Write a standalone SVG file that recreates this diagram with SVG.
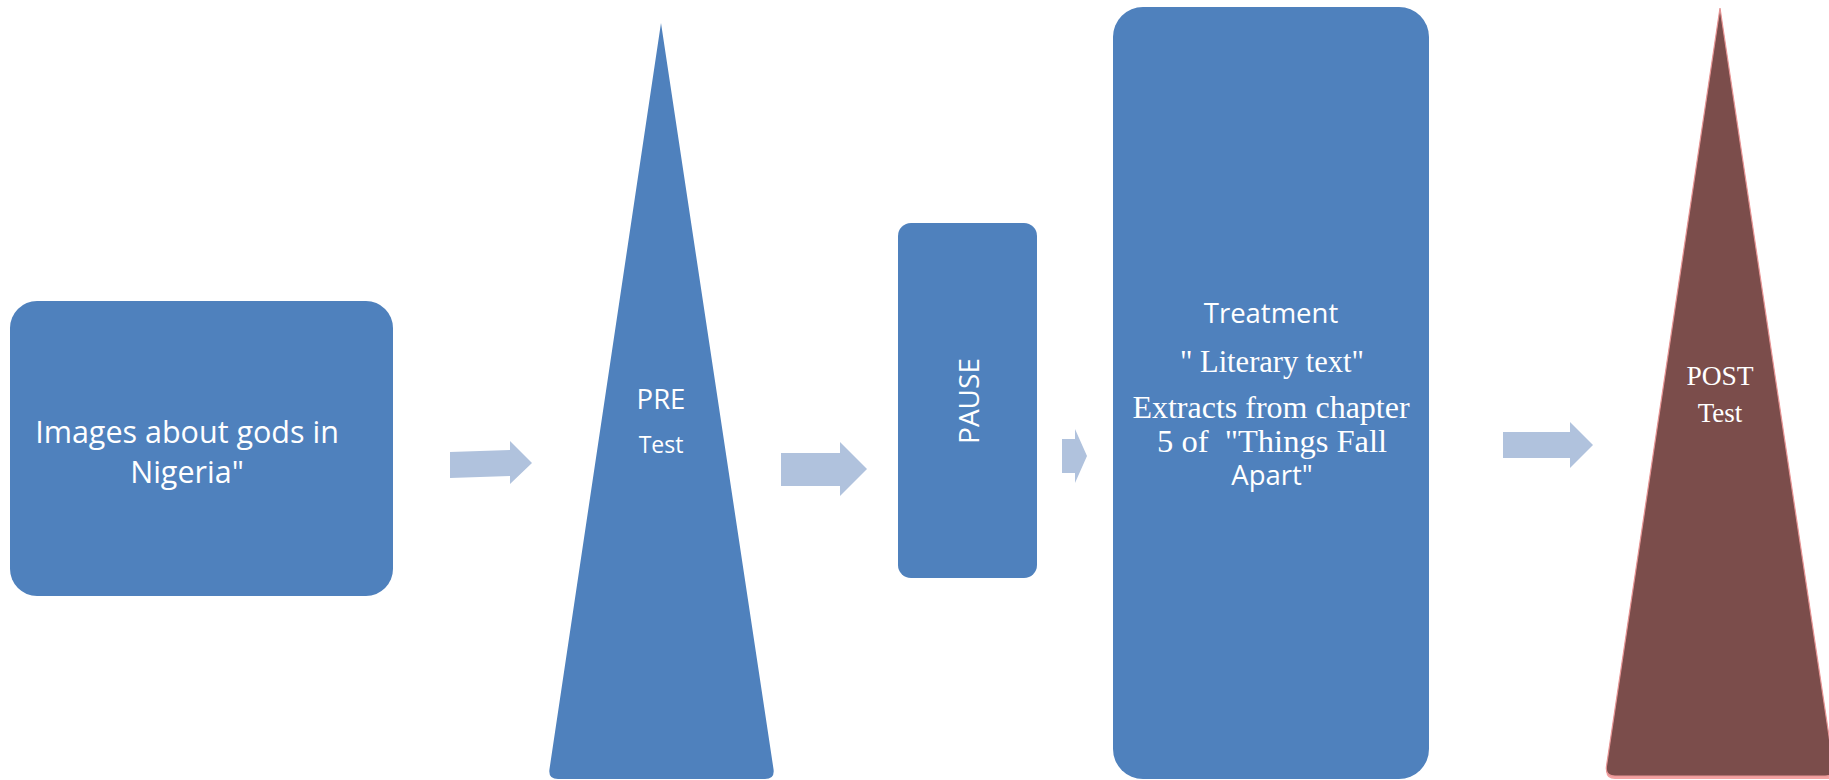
<svg xmlns="http://www.w3.org/2000/svg" width="1829" height="780" viewBox="0 0 1829 780">
  <style>
    .box { fill: #4F81BD; }
    .flow { fill: #B0C2DD; }
    .sans { font-family: "Open Sans", "Liberation Sans", sans-serif; fill: #FFFFFF; text-anchor: middle; }
    .serif { font-family: "Liberation Serif", "Times New Roman", serif; fill: #FFFFFF; text-anchor: middle; }
  </style>

  <rect width="1829" height="780" fill="#FFFFFF"/>

  <!-- connectors: block arrows between stages -->
  <g id="connectors">
    <polygon class="flow" points="450,452 510,450 510,441 532,463 510,484 510,476 450,478"/>
    <polygon class="flow" points="781,453 840,453 840,442 867,469 840,496 840,486 781,486"/>
    <polygon class="flow" points="1062,439 1075,439 1075,429 1087,456 1075,483 1075,473 1062,473"/>
    <polygon class="flow" points="1503,432 1570,432 1570,422 1593,445 1570,468 1570,458 1503,458"/>
  </g>

  <!-- stage 1: images -->
  <g id="node-images">
    <rect class="box" x="10" y="301" width="383" height="295" rx="27" ry="27"/>
    <text class="sans" x="187" y="443" font-size="30.5">Images about gods in</text>
    <text class="sans" x="187" y="483" font-size="30.5">Nigeria"</text>
  </g>

  <!-- stage 2: pre-test -->
  <g id="node-pretest">
    <path class="box" d="M661,23 L549.5,769 Q548,779 558,779 L765,779 Q775,779 773.5,769 Z"/>
    <text class="sans" x="661" y="409" font-size="27.5">PRE</text>
    <text class="sans" x="661" y="453" font-size="23">Test</text>
  </g>

  <!-- stage 3: pause -->
  <g id="node-pause">
    <rect class="box" x="898" y="223" width="139" height="355" rx="13" ry="13"/>
    <text class="sans" font-size="28" transform="translate(979,401) rotate(-90)" x="0" y="0">PAUSE</text>
  </g>

  <!-- stage 4: treatment -->
  <g id="node-treatment">
    <rect class="box" x="1113" y="7" width="316" height="772" rx="30" ry="30"/>
    <text class="sans" x="1271" y="323" font-size="27.5">Treatment</text>
    <text class="serif" x="1272" y="372" font-size="30.5">" Literary text"</text>
    <text class="serif" x="1271" y="418" font-size="32">Extracts from chapter</text>
    <text class="serif" x="1272" y="452" font-size="32.5">5 of&#160; "Things Fall</text>
    <text class="sans" x="1272" y="485" font-size="27.5">Apart"</text>
  </g>

  <!-- stage 5: post-test -->
  <g id="node-posttest">
    <path d="M1720,11 L1606.5,769 Q1605,779 1615,779 L1829,779 L1829,760 Z" fill="#F4A3A3"/>
    <path d="M1720,8 L1606.5,766 Q1605,776 1615,776 L1825,776 Q1835,776 1833.5,766 Z" fill="#7B4D4B" stroke="#E79595" stroke-width="1.2"/>
    <text class="serif" x="1720" y="385" font-size="27.5">POST</text>
    <text class="serif" x="1720" y="422" font-size="27">Test</text>
  </g>
</svg>
